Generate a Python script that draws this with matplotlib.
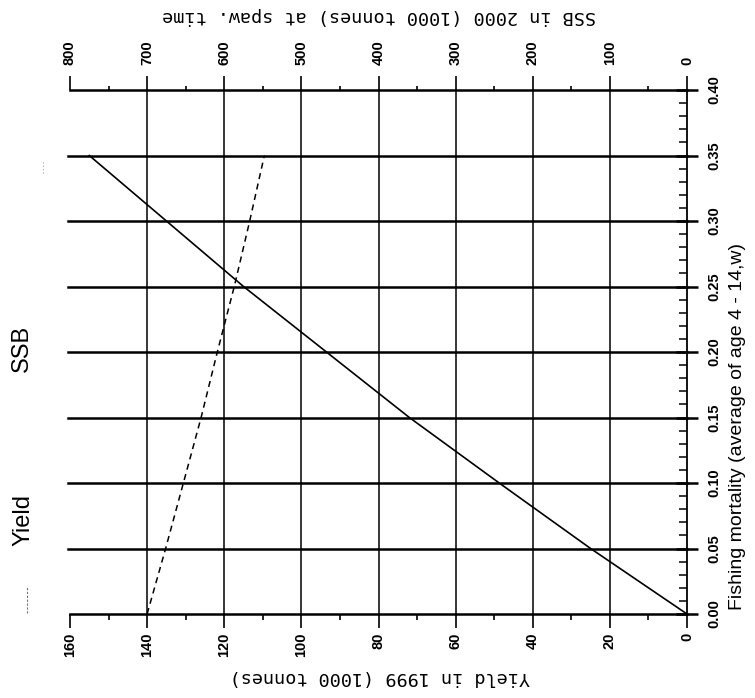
import numpy as np
import matplotlib.pyplot as plt
from matplotlib.ticker import MultipleLocator
from matplotlib.lines import Line2D

fishing_mortality = [0.00, 0.05, 0.10, 0.15, 0.20, 0.25, 0.30, 0.35]
yield_1999 = [0, 25, 48.7, 72, 93.5, 115, 135, 155]
ssb_2000 = [700, 676, 653, 630, 609, 587, 567, 548]

yield_ticks = [0, 20, 40, 60, 80, 100, 120, 140, 160]
ssb_ticks = [0, 100, 200, 300, 400, 500, 600, 700, 800]
f_ticks = [0.00, 0.05, 0.10, 0.15, 0.20, 0.25, 0.30, 0.35, 0.40]

W, H = 755, 698
tick_kw = dict(rotation=90, fontfamily='Liberation Sans', fontweight='bold', fontsize=10.5)

fig = plt.figure(figsize=(W / 100, H / 100), dpi=100)
ax = fig.add_axes([70 / W, 1 - 614 / H, 617 / W, 524 / H])
ax.set_xlim(160, 0)
ax.set_ylim(0, 0.40)

# grid: heavy lines at each F step, lighter verticals at each yield step
for f in f_ticks[1:-1]:
    ax.axhline(f, xmin=-0.004, xmax=1.0, color='k', lw=1.8, zorder=1, clip_on=False)
for y in yield_ticks[1:-1]:
    ax.axvline(y, color='k', lw=1.1, zorder=1)

ax.plot(yield_1999, fishing_mortality, color='k', lw=1.2, zorder=3)

ax.spines['left'].set_visible(False)
ax.spines['bottom'].set_linewidth(1.8)
ax.spines['top'].set_linewidth(1.8)
ax.spines['right'].set_linewidth(1.3)

# bottom axis: yield
ax.set_xticks(yield_ticks, [str(v) for v in yield_ticks], **tick_kw)
ax.xaxis.set_minor_locator(MultipleLocator(10))
ax.tick_params(axis='x', which='major', direction='out', length=10, width=1.2, pad=3.5)
ax.tick_params(axis='x', which='minor', direction='out', length=4, width=1.2)

# right axis: fishing mortality
ax.yaxis.tick_right()
ax.set_yticks(f_ticks, ['%.2f' % v for v in f_ticks], **tick_kw)
for lbl in ax.get_yticklabels():
    lbl.set_va('center')
ax.yaxis.set_minor_locator(MultipleLocator(0.01))
ax.tick_params(axis='y', which='major', direction='inout', length=16, width=1.8, pad=7)
ax.tick_params(axis='y', which='minor', direction='in', length=6, width=1.1)

# top axis: SSB
ax2 = ax.twiny()
ax2.set_xlim(800, 0)
ax2.plot(ssb_2000, fishing_mortality, color='k', lw=1.1, ls=(0, (4, 3)), zorder=3)
for s in ['left', 'right', 'bottom', 'top']:
    ax2.spines[s].set_visible(False)
ax2.set_xticks(ssb_ticks, [str(v) for v in ssb_ticks], **tick_kw)
ax2.xaxis.set_minor_locator(MultipleLocator(50))
ax2.tick_params(axis='x', which='major', direction='out', length=10, width=1.2, pad=8)
ax2.tick_params(axis='x', which='minor', direction='out', length=3, width=1.2)

# axis titles (scanned page is rotated, so some text is upside down)
fig.text(379 / W, 1 - 16 / H, 'SSB in 2000 (1000 tonnes) at spaw. time',
         rotation=180, ha='center', va='center', fontsize=13.3, family='DejaVu Sans Mono')
fig.text(380 / W, 1 - 677 / H, 'Yield in 1999 (1000 tonnes)',
         rotation=180, ha='center', va='center', fontsize=13.3, family='DejaVu Sans Mono')
fig.text(738 / W, 1 - 427 / H, 'Fishing mortality (average of age 4 - 14,w)',
         rotation=90, ha='center', va='center', fontsize=14, family='Liberation Sans')

# legend
fig.text(24 / W, 1 - 520 / H, 'Yield', rotation=90, ha='center', va='center',
         fontsize=17, family='Liberation Sans')
fig.text(22 / W, 1 - 348 / H, 'SSB', rotation=90, ha='center', va='center',
         fontsize=17, family='Liberation Sans')
fig.add_artist(Line2D([27 / W, 27 / W], [1 - 613 / H, 1 - 587 / H], color='0.45',
                      lw=0.8, ls=(0, (2, 1.5))))
fig.add_artist(Line2D([43 / W, 43 / W], [1 - 173 / H, 1 - 160 / H], color='0.65',
                      lw=0.8, ls=(0, (1, 2))))

fig.savefig('out.png', dpi=100)
